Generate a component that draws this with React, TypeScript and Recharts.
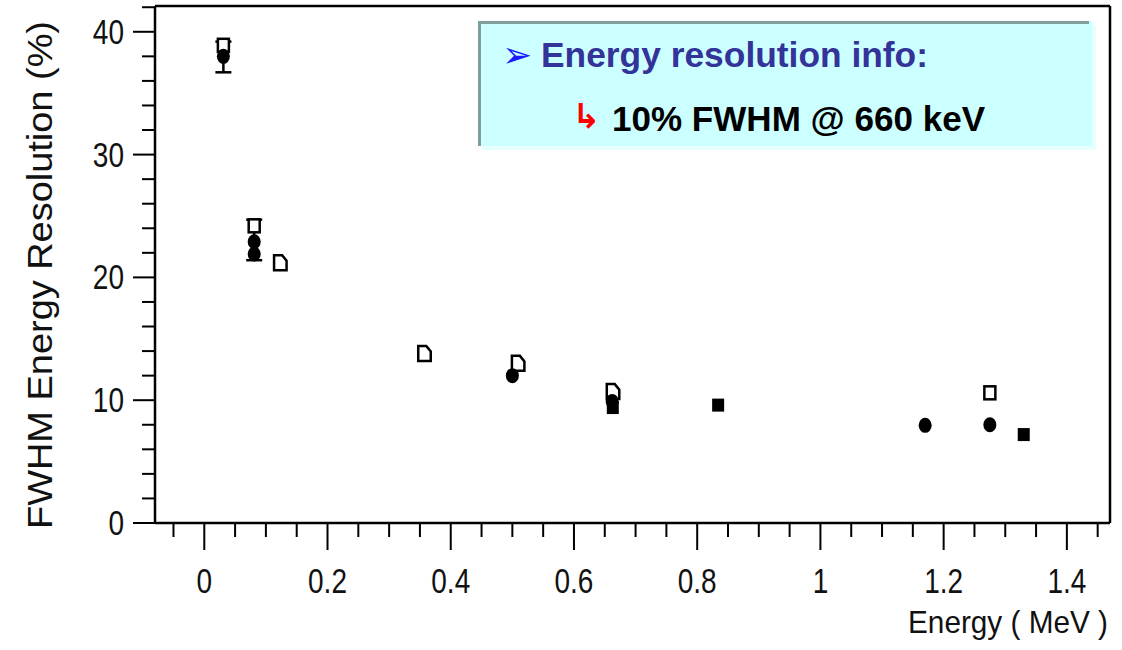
import React from "react";
import {
  ScatterChart,
  Scatter,
  XAxis,
  YAxis,
  ErrorBar,
  ReferenceLine,
} from "recharts";

// axis ticks (minor every 0.05 MeV / 2 %)
const X_TICKS = [
  -0.05, 0, 0.05, 0.1, 0.15, 0.2, 0.25, 0.3, 0.35, 0.4, 0.45, 0.5, 0.55, 0.6,
  0.65, 0.7, 0.75, 0.8, 0.85, 0.9, 0.95, 1, 1.05, 1.1, 1.15, 1.2, 1.25, 1.3,
  1.35, 1.4, 1.45,
];
const X_MAJOR = [0, 0.2, 0.4, 0.6, 0.8, 1, 1.2, 1.4];
const X_LABELS = ["0", "0.2", "0.4", "0.6", "0.8", "1", "1.2", "1.4"];

const Y_TICKS = [
  0, 2, 4, 6, 8, 10, 12, 14, 16, 18, 20, 22, 24, 26, 28, 30, 32, 34, 36, 38,
  40, 42,
];
const Y_MAJOR = [0, 10, 20, 30, 40];
const Y_LABELS = ["0", "10", "20", "30", "40"];

// measured points: energy (MeV), FWHM (%)
const FILLED_CIRCLES = [
  { e: 0.031, fwhm: 38.0, err: [1.3, 1.2] },
  { e: 0.081, fwhm: 22.9, err: [1.5, 1.8] },
  { e: 0.081, fwhm: 21.9, err: null },
  { e: 0.5, fwhm: 12.0, err: null },
  { e: 0.662, fwhm: 9.9, err: null },
  { e: 1.17, fwhm: 7.95, err: null },
  { e: 1.275, fwhm: 8.0, err: null },
];
const OPEN_SQUARES = [
  { e: 0.031, fwhm: 38.9 },
  { e: 0.081, fwhm: 24.2 },
  { e: 1.275, fwhm: 10.6 },
];
const OPEN_NOTCHED = [
  { e: 0.123, fwhm: 21.2 },
  { e: 0.357, fwhm: 13.8 },
  { e: 0.509, fwhm: 13.0 },
  { e: 0.663, fwhm: 10.7 },
];
const FILLED_SQUARES = [
  { e: 0.663, fwhm: 9.4 },
  { e: 0.834, fwhm: 9.6 },
  { e: 1.33, fwhm: 7.2 },
];

const AXIS_FONT = '"Liberation Sans", Arial, sans-serif';
const near = (arr: number[], v: number) => arr.findIndex((m) => Math.abs(m - v) < 1e-6);

function XTick(props: any) {
  const { x, y, payload } = props;
  const i = near(X_MAJOR, payload.value);
  const major = i >= 0;
  return (
    <g>
      <line x1={x} x2={x} y1={y} y2={y + (major ? 27 : 14)} stroke="#000" strokeWidth={2} />
      {major && (
        <text
          transform={`translate(${x},${y + 70}) scale(0.8,1)`}
          textAnchor="middle"
          fontFamily={AXIS_FONT}
          fontSize={35}
          fill="#111"
        >
          {X_LABELS[i]}
        </text>
      )}
    </g>
  );
}

function YTick(props: any) {
  const { x, y, payload } = props;
  const i = near(Y_MAJOR, payload.value);
  const major = i >= 0;
  return (
    <g>
      <line x1={x} x2={x - (major ? 22 : 13)} y1={y} y2={y} stroke="#000" strokeWidth={2} />
      {major && (
        <text
          transform={`translate(${x - 31},${y + 12}) scale(0.8,1)`}
          textAnchor="end"
          fontFamily={AXIS_FONT}
          fontSize={35}
          fill="#111"
        >
          {Y_LABELS[i]}
        </text>
      )}
    </g>
  );
}

const FilledCircle = (p: any) => <ellipse cx={p.cx} cy={p.cy} rx={6.5} ry={7.5} fill="#000" />;
const OpenSquare = (p: any) => (
  <rect x={p.cx - 5.5} y={p.cy - 6.5} width={11} height={13} fill="#fff" stroke="#000" strokeWidth={2.5} />
);
const OpenNotched = (p: any) => (
  <path
    d={`M${p.cx - 6},${p.cy - 7.5} L${p.cx + 2},${p.cy - 7.5} L${p.cx + 6.5},${p.cy - 2} L${p.cx + 6.5},${p.cy + 7.5} L${p.cx - 6},${p.cy + 7.5} Z`}
    fill="#fff"
    stroke="#000"
    strokeWidth={2.5}
  />
);
const FilledSquare = (p: any) => (
  <rect x={p.cx - 6} y={p.cy - 6.5} width={12} height={13} fill="#000" />
);

export default function App() {
  return (
    <div style={{ position: "absolute", left: 0, top: 0, width: 1122, height: 650, background: "#fff" }}>
      <ScatterChart width={1122} height={650} margin={{ top: 6, right: 12, bottom: 0, left: 0 }}>
        <XAxis
          type="number"
          dataKey="e"
          domain={[-0.08, 1.47]}
          allowDataOverflow
          ticks={X_TICKS}
          interval={0}
          tick={<XTick />}
          tickLine={false}
          tickSize={0}
          tickMargin={0}
          axisLine={{ stroke: "#000", strokeWidth: 2.5 }}
          height={127}
          label={(props: any) => {
            const vb = props.viewBox || { x: 155, y: 523, width: 955, height: 127 };
            return (
              <text
                x={vb.x + vb.width - 2}
                y={vb.y + 110}
                textAnchor="end"
                fontFamily={AXIS_FONT}
                fontSize={32}
                fill="#111"
                textLength={200}
                lengthAdjust="spacingAndGlyphs"
              >
                Energy ( MeV )
              </text>
            );
          }}
        />
        <YAxis
          type="number"
          dataKey="fwhm"
          domain={[0, 42.1]}
          allowDataOverflow
          ticks={Y_TICKS}
          interval={0}
          tick={<YTick />}
          tickLine={false}
          tickSize={0}
          tickMargin={0}
          axisLine={{ stroke: "#000", strokeWidth: 2.5 }}
          width={155}
          label={(props: any) => {
            const vb = props.viewBox || { x: 0, y: 6, width: 155, height: 517 };
            const cx = vb.x + 52;
            const cy = vb.y + 269;
            return (
              <text
                x={cx}
                y={cy}
                transform={`rotate(-90 ${cx} ${cy})`}
                textAnchor="middle"
                fontFamily={AXIS_FONT}
                fontSize={35}
                fill="#111"
                textLength={508}
                lengthAdjust="spacingAndGlyphs"
              >
                FWHM Energy Resolution (%)
              </text>
            );
          }}
        />
        <ReferenceLine x={1.47} stroke="#000" strokeWidth={2.5} />
        <ReferenceLine y={42.1} stroke="#000" strokeWidth={2.5} />
        <Scatter data={OPEN_NOTCHED} shape={OpenNotched} isAnimationActive={false} />
        <Scatter data={OPEN_SQUARES} shape={OpenSquare} isAnimationActive={false} />
        <Scatter data={FILLED_CIRCLES} shape={FilledCircle} isAnimationActive={false}>
          <ErrorBar dataKey="err" direction="y" width={8} stroke="#000" strokeWidth={2.5} />
        </Scatter>
        <Scatter data={FILLED_SQUARES} shape={FilledSquare} isAnimationActive={false} />
      </ScatterChart>

      <svg
        width={1122}
        height={650}
        style={{ position: "absolute", left: 0, top: 0, pointerEvents: "none" }}
      >
        <rect x={482} y={25} width={614} height={125} fill="#e6ffff" />
        <rect x={478} y={21} width={614} height={125} fill="#ccffff" />
        <line x1={478} x2={1089} y1={22.5} y2={22.5} stroke="#7f9f9f" strokeWidth={3} />
        <line x1={479.5} x2={479.5} y1={21} y2={146} stroke="#7f9f9f" strokeWidth={3} />
        <text x={502} y={67} fontFamily='"DejaVu Sans", sans-serif' fontSize={36} fill="#1a1aff">
          ➢
        </text>
        <text
          x={541}
          y={67}
          fontFamily={'"Liberation Sans", Arial, sans-serif'}
          fontWeight="bold"
          fontSize={35}
          fill="#333399"
          textLength={387}
          lengthAdjust="spacingAndGlyphs"
        >
          Energy resolution info:
        </text>
        <text x={572} y={128} fontFamily='"DejaVu Sans", sans-serif' fontWeight="bold" fontSize={34} fill="#ff0000">
          ↳
        </text>
        <text
          x={612}
          y={131}
          fontFamily={'"Liberation Sans", Arial, sans-serif'}
          fontWeight="bold"
          fontSize={35}
          fill="#000"
          textLength={373}
          lengthAdjust="spacingAndGlyphs"
        >
          10% FWHM @ 660 keV
        </text>
      </svg>
    </div>
  );
}
